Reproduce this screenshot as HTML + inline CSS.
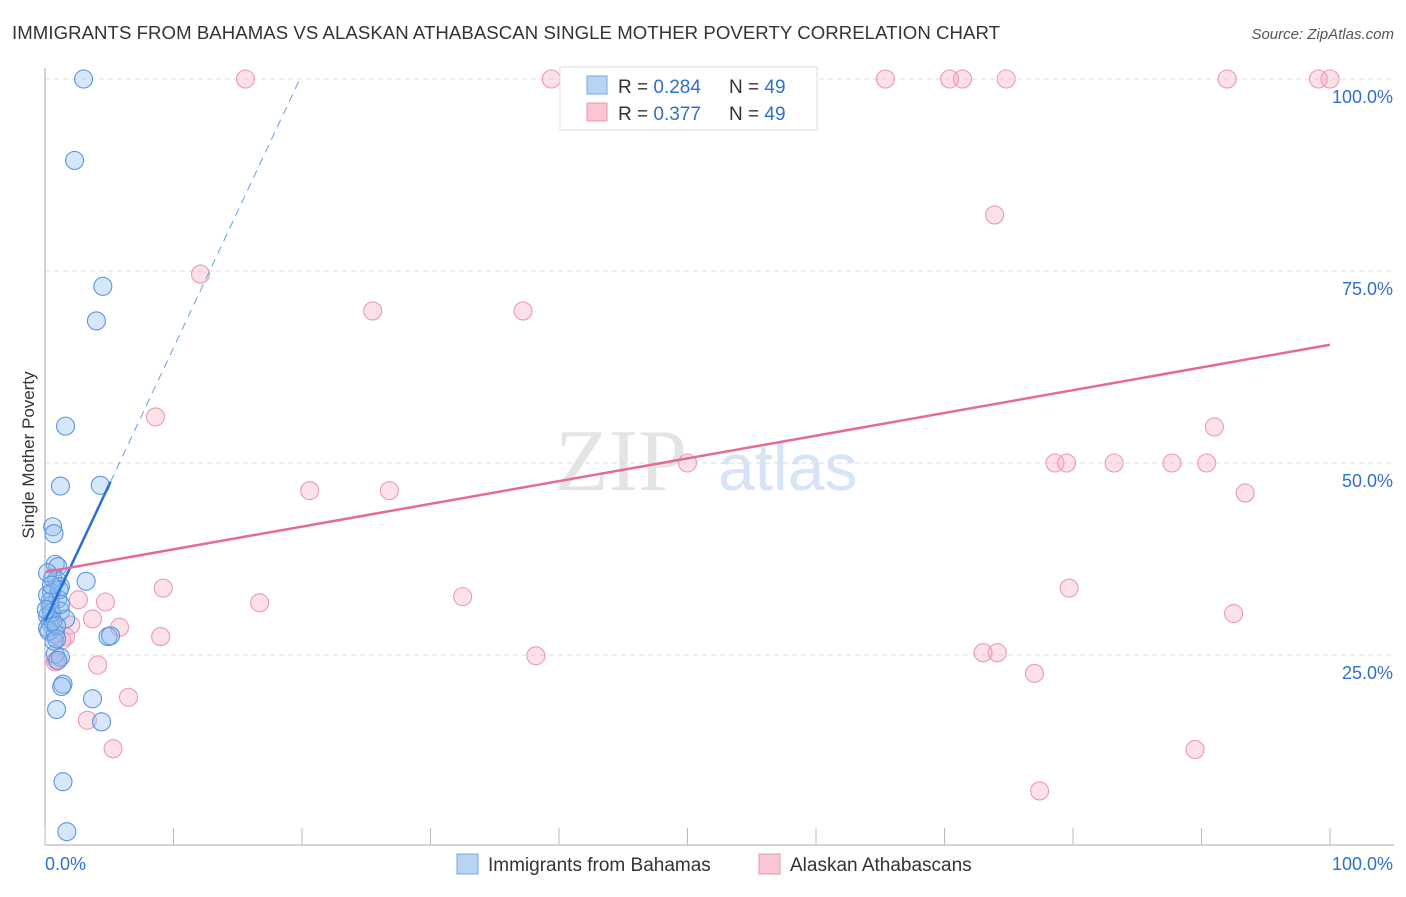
<!DOCTYPE html>
<html><head><meta charset="utf-8"><style>
body{margin:0;background:#fff;font-family:"Liberation Sans",sans-serif;}
</style></head><body>
<svg id="c" width="1406" height="892" xmlns="http://www.w3.org/2000/svg" style="font-family:'Liberation Sans',sans-serif">
<text x="12" y="39" font-size="18.6" fill="#333" textLength="988">IMMIGRANTS FROM BAHAMAS VS ALASKAN ATHABASCAN SINGLE MOTHER POVERTY CORRELATION CHART</text>
<text x="1394" y="39" font-size="15" fill="#555" font-style="italic" text-anchor="end">Source: ZipAtlas.com</text>
<text x="34" y="455" font-size="17" fill="#333" text-anchor="middle" transform="rotate(-90 34 455)">Single Mother Poverty</text>
<g><text x="555" y="490" font-size="88" fill="#e4e4e4" font-family="Liberation Serif,serif">ZIP</text><text x="718" y="490" font-size="66" fill="#d6e4f5">atlas</text></g>
<g id="grid"></g><g id="axes"></g><g id="pts"></g><g id="lines"></g>
<g>
<rect x="560" y="67" width="257" height="63" fill="#fff" stroke="#ddd"/>
<rect x="587" y="76" width="20" height="18" fill="#b8d4f5" stroke="#7aa8e0"/>
<text x="618" y="93" font-size="19" fill="#333">R = <tspan fill="#2f6fd0">0.284</tspan></text>
<text x="729" y="93" font-size="19" fill="#333">N = <tspan fill="#2f6fd0">49</tspan></text>
<rect x="587" y="103" width="20" height="18" fill="#f9c6d4" stroke="#e898ae"/>
<text x="618" y="120" font-size="19" fill="#333">R = <tspan fill="#2f6fd0">0.377</tspan></text>
<text x="729" y="120" font-size="19" fill="#333">N = <tspan fill="#2f6fd0">49</tspan></text>
</g>
<g>
<rect x="457" y="854" width="21" height="20" fill="#b8d4f5" stroke="#7aa8e0"/>
<text x="488" y="871" font-size="19" fill="#333">Immigrants from Bahamas</text>
<rect x="759" y="854" width="21" height="20" fill="#f9c6d4" stroke="#e898ae"/>
<text x="790" y="871" font-size="19" fill="#333">Alaskan Athabascans</text>
</g>
</svg>
<script>
const blueX=[3.0,2.3,4.5,4.0,1.6,1.2,4.3,0.6,0.7,0.8,1.0,0.6,0.9,3.2,1.2,0.5,1.0,0.4,1.2,0.2,1.6,0.4,0.2,0.8,4.9,5.1,0.8,1.2,1.0,1.4,1.3,3.7,0.9,4.4,1.4,1.7,0.4,0.5,0.3,0.7,0.2,0.6,0.2,0.9,1.1,0.5,0.9,0.1,1.2];
const blueY=[100,89.4,73.0,68.5,54.8,47.0,47.1,41.7,40.8,36.8,36.5,35.0,34.8,34.6,33.9,33.1,32.3,31.4,30.7,30.1,29.7,29.2,28.5,27.7,27.4,27.5,25.1,24.7,24.3,21.2,20.9,19.3,17.9,16.3,8.5,2.0,32.0,30.5,28.1,26.8,32.8,29.4,35.7,28.8,33.5,34.1,27.1,30.9,31.6];
const pinkX=[15.6,39.4,65.4,70.4,71.4,74.8,92.0,99.1,100,73.9,12.1,25.5,37.2,8.6,50.0,78.6,79.5,83.2,87.7,90.4,91.0,93.4,20.6,26.8,9.2,79.7,32.5,2.6,4.7,16.7,92.5,3.7,5.8,9.0,1.6,1.3,73.0,74.1,38.2,0.9,4.1,77.0,6.5,3.3,5.3,89.5,77.4,0.8,2.0];
const pinkY=[100,100,100,100,100,100,100,100,100,82.3,74.6,69.8,69.8,56.0,50.0,50.0,50.0,50.0,50.0,50.0,54.7,46.1,46.4,46.4,33.7,33.7,32.6,32.2,31.9,31.8,30.4,29.7,28.6,27.4,27.4,26.9,25.3,25.3,24.9,24.3,23.7,22.6,19.5,16.5,12.8,12.7,7.3,24.1,28.9];
const blueFit=[29.4,3.56]; // intercept, slope per %
const pinkFit=[35.8,65.4]; // y at x=0, y at x=100
const yTicks=[25,50,75,100];
const xTickCount=[0,10,20,30,40,50,60,70,80,90,100];
const NS='http://www.w3.org/2000/svg';
const X=v=>45+v*12.85, Y=v=>847-v*7.68;
function mk(tag,attrs,parent){const e=document.createElementNS(NS,tag);for(const k in attrs)e.setAttribute(k,attrs[k]);document.getElementById(parent).appendChild(e);return e;}
yTicks.forEach(t=>{
 const l=mk('line',{x1:45,x2:1394,y1:Y(t),y2:Y(t),stroke:'#ddd','stroke-dasharray':'5,4'},'grid');
 
 
 const tx=mk('text',{x:1393,y:Y(t)+24,'font-size':18,fill:'#2f6fd0','text-anchor':'end'},'axes');tx.textContent=t.toFixed(1)+'%';
 
 
});
const ax=mk('line',{x1:45,x2:45,y1:68,y2:845,stroke:'#aaa'},'axes');


const bx=mk('line',{x1:45,x2:1394,y1:845,y2:845,stroke:'#aaa'},'axes');


xTickCount.forEach(t=>{const l=mk('line',{x1:X(t),x2:X(t),y1:828,y2:845,stroke:'#bbb'},'axes');
 
 });
const a0=mk('text',{x:45,y:870,'font-size':18,fill:'#2f6fd0'},'axes');a0.textContent='0.0%';


const a1=mk('text',{x:1393,y:870,'font-size':18,fill:'#2f6fd0','text-anchor':'end'},'axes');a1.textContent='100.0%';


pinkX.forEach((v,i)=>{const c=mk('circle',{cx:X(v),cy:Y(pinkY[i]),r:9,fill:'rgba(246,170,192,0.35)',stroke:'#eb9ab2','stroke-width':1.1},'pts');
 
 });
blueX.forEach((v,i)=>{const c=mk('circle',{cx:X(v),cy:Y(blueY[i]),r:9,fill:'rgba(140,185,240,0.35)',stroke:'#5b95de','stroke-width':1.1},'pts');
 
 });
const bxEnd=Math.max(...blueX), bxTop=(100-blueFit[0])/blueFit[1];
const b1=mk('line',{x1:X(0),y1:Y(blueFit[0]),x2:X(bxEnd),y2:Y(blueFit[0]+blueFit[1]*bxEnd),stroke:'#2a6fd6','stroke-width':2.5},'lines');


const b2=mk('line',{x1:X(bxEnd),y1:Y(blueFit[0]+blueFit[1]*bxEnd),x2:X(bxTop),y2:Y(100),stroke:'#6a9ee0','stroke-width':1,'stroke-dasharray':'8,6'},'lines');


const p1=mk('line',{x1:X(0),y1:Y(pinkFit[0]),x2:X(100),y2:Y(pinkFit[1]),stroke:'#e56b93','stroke-width':2.5},'lines');


</script>
</body></html>
